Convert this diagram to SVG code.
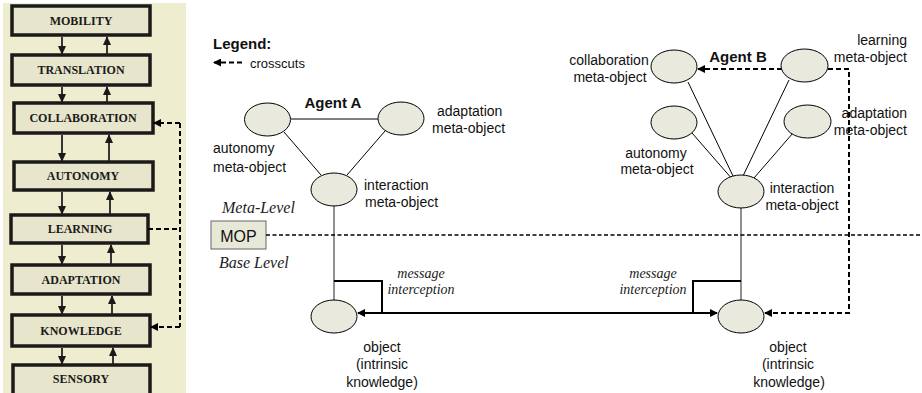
<svg xmlns="http://www.w3.org/2000/svg" width="922" height="393" viewBox="0 0 922 393">
<style>
.lv rect{fill:#e7e5cb;stroke:#1a1a1a;stroke-width:3.5}
.lv text{font-family:"Liberation Serif",serif;font-weight:bold;font-size:12px;text-anchor:middle;fill:#1a1a1a}
.ar{stroke:#222;stroke-width:1.8;fill:none}
.el{fill:#e9e9dd;stroke:#000;stroke-width:1}
.t{font-family:"Liberation Sans",Arial,sans-serif;font-size:14px;fill:#111}
.b{font-family:"Liberation Sans",Arial,sans-serif;font-size:15px;font-weight:bold;fill:#111}
.i{font-family:"Liberation Serif",serif;font-style:italic;fill:#222}
.dash{stroke:#000;stroke-width:2;stroke-dasharray:5,3;fill:none}
.ln{stroke:#000;stroke-width:1;fill:none}
.gl{stroke:#555;stroke-width:1.3;fill:none}
.thick{stroke:#000;stroke-width:2;fill:none}
</style>
<defs>
<marker id="ah" markerWidth="8" markerHeight="8" refX="7" refY="4" orient="auto" markerUnits="userSpaceOnUse"><path d="M0,0 L8,4 L0,8 z" fill="#000"/></marker>
<marker id="ahs" markerWidth="9" markerHeight="8" refX="8" refY="4" orient="auto" markerUnits="userSpaceOnUse"><path d="M0,0 L9,4 L0,8 z" fill="#1a1a1a"/></marker>
</defs>
<rect x="3" y="3" width="183" height="390" fill="#efedcf"/>
<g id="mobility" class="lv"><rect x="12" y="6" width="138" height="29"/><text x="81" y="24.5">MOBILITY</text></g>
<g id="translation" class="lv"><rect x="12" y="55" width="138" height="30"/><text x="81" y="74">TRANSLATION</text></g>
<g id="collaboration" class="lv"><rect x="14" y="103" width="139" height="30"/><text x="83" y="122">COLLABORATION</text></g>
<g id="autonomy" class="lv"><rect x="14" y="162" width="139" height="28"/><text x="83" y="180">AUTONOMY</text></g>
<g id="learning" class="lv"><rect x="11" y="215" width="137" height="28"/><text x="80" y="233">LEARNING</text></g>
<g id="adaptation" class="lv"><rect x="12" y="265" width="138" height="29"/><text x="81" y="283.5">ADAPTATION</text></g>
<g id="knowledge" class="lv"><rect x="12" y="315" width="138" height="31"/><text x="81" y="335">KNOWLEDGE</text></g>
<g id="sensory" class="lv"><rect x="13" y="365" width="137" height="32"/><text x="81" y="383">SENSORY</text></g>
<g id="level-arrows">
<path class="ar" d="M62,37 V54" marker-end="url(#ahs)"/><path class="ar" d="M107,54 V37" marker-end="url(#ahs)"/>
<path class="ar" d="M62,87 V102" marker-end="url(#ahs)"/><path class="ar" d="M107,102 V87" marker-end="url(#ahs)"/>
<path class="ar" d="M62,135 V161" marker-end="url(#ahs)"/><path class="ar" d="M109,161 V135" marker-end="url(#ahs)"/>
<path class="ar" d="M62,192 V214" marker-end="url(#ahs)"/><path class="ar" d="M110,214 V192" marker-end="url(#ahs)"/>
<path class="ar" d="M62,245 V264" marker-end="url(#ahs)"/><path class="ar" d="M111,264 V245" marker-end="url(#ahs)"/>
<path class="ar" d="M62,296 V314" marker-end="url(#ahs)"/><path class="ar" d="M112,314 V296" marker-end="url(#ahs)"/>
<path class="ar" d="M62,348 V364" marker-end="url(#ahs)"/><path class="ar" d="M113,364 V348" marker-end="url(#ahs)"/>
<path class="dash" d="M148,229 H180"/>
<path class="dash" d="M180,123 V327"/>
<path class="dash" d="M180,123 H154" marker-end="url(#ah)"/>
<path class="dash" d="M180,327 H151" marker-end="url(#ah)"/>
</g>
<g id="legend">
<text class="b" x="213" y="49">Legend:</text>
<path class="dash" d="M242,62.5 H214" marker-end="url(#ah)"/>
<text class="t" x="250" y="68" style="font-size:13px">crosscuts</text>
</g>
<g id="mop">
<rect x="211" y="221" width="55" height="28" fill="#e8e8d8" stroke="#666" stroke-width="1"/>
<text class="t" x="238.5" y="241.5" text-anchor="middle" style="font-size:16px">MOP</text>
<text class="i" x="222" y="213" style="font-size:16px">Meta-Level</text>
<text class="i" x="219" y="268" style="font-size:16px">Base Level</text>
</g>
<g id="connectors">
<path class="ln" d="M291,119 H378"/>
<path class="ln" d="M284,132 L321,175"/>
<path class="ln" d="M385,131 L347,175"/>
<path class="gl" d="M334,206 V300"/>
<path class="ln" d="M688,82 L733,176"/>
<path class="ln" d="M789,80 L743,176"/>
<path class="ln" d="M692,133 L733,180"/>
<path class="ln" d="M793,133 L754,178"/>
<path class="gl" d="M741,208 V300"/>
<path style="stroke:#000;stroke-width:1.3;stroke-dasharray:4,2.5;fill:none" d="M266,235 H922"/>
<path class="thick" d="M334,281 H382 V313"/>
<path class="thick" d="M741,281 H693 V313"/>
<path class="thick" d="M540,313 H358" marker-end="url(#ah)"/>
<path class="thick" d="M540,313 H717" marker-end="url(#ah)"/>
<path class="dash" d="M782,69 H698" marker-end="url(#ah)"/>
<path class="dash" d="M828,69 H849 V313 H765" marker-end="url(#ah)"/>
</g>
<g id="agent-a">
<text class="b" x="333" y="108" text-anchor="middle">Agent A</text>
</g>
<g id="autonomy-a"><ellipse class="el" cx="267.5" cy="119.5" rx="23" ry="16.5"/><text class="t" x="213" y="153">autonomy</text><text class="t" x="213" y="172">meta-object</text></g>
<g id="adaptation-a"><ellipse class="el" cx="401" cy="118.5" rx="23" ry="16.5"/><text class="t" x="437" y="116">adaptation</text><text class="t" x="432" y="133">meta-object</text></g>
<g id="interaction-a"><ellipse class="el" cx="334" cy="189.5" rx="23" ry="16.5"/><text class="t" x="364" y="190">interaction</text><text class="t" x="365" y="207">meta-object</text></g>
<g id="object-a"><ellipse class="el" cx="334" cy="316.5" rx="23" ry="16.5"/>
<text class="t" x="382" y="352" text-anchor="middle">object</text><text class="t" x="382" y="369" text-anchor="middle">(intrinsic</text><text class="t" x="382" y="387" text-anchor="middle">knowledge)</text></g>
<g id="msg-a"><text class="i" x="421" y="278" text-anchor="middle" style="font-size:14px">message</text><text class="i" x="421" y="294" text-anchor="middle" style="font-size:14px">interception</text></g>
<g id="agent-b"><text class="b" x="738" y="62" text-anchor="middle">Agent B</text></g>
<g id="collaboration-b"><ellipse class="el" cx="674" cy="66.5" rx="23" ry="16.5"/><text class="t" x="609" y="65" text-anchor="middle">collaboration</text><text class="t" x="610" y="82" text-anchor="middle">meta-object</text></g>
<g id="learning-b"><ellipse class="el" cx="804.5" cy="65.5" rx="23.5" ry="16.5"/><text class="t" x="907" y="45" text-anchor="end">learning</text><text class="t" x="907" y="62" text-anchor="end">meta-object</text></g>
<g id="autonomy-b"><ellipse class="el" cx="674" cy="122.5" rx="23" ry="16.5"/><text class="t" x="656" y="158" text-anchor="middle">autonomy</text><text class="t" x="657" y="174" text-anchor="middle">meta-object</text></g>
<g id="adaptation-b"><ellipse class="el" cx="807.5" cy="121.5" rx="23.5" ry="16.5"/><text class="t" x="907" y="118" text-anchor="end">adaptation</text><text class="t" x="907" y="135" text-anchor="end">meta-object</text></g>
<g id="interaction-b"><ellipse class="el" cx="741" cy="191.5" rx="23" ry="16.5"/><text class="t" x="802" y="193" text-anchor="middle">interaction</text><text class="t" x="802" y="210" text-anchor="middle">meta-object</text></g>
<g id="object-b"><ellipse class="el" cx="741" cy="316.5" rx="23" ry="16.5"/>
<text class="t" x="788" y="352" text-anchor="middle">object</text><text class="t" x="788" y="369" text-anchor="middle">(intrinsic</text><text class="t" x="789" y="387" text-anchor="middle">knowledge)</text></g>
<g id="msg-b"><text class="i" x="653" y="278" text-anchor="middle" style="font-size:14px">message</text><text class="i" x="653" y="294" text-anchor="middle" style="font-size:14px">interception</text></g>
</svg>
